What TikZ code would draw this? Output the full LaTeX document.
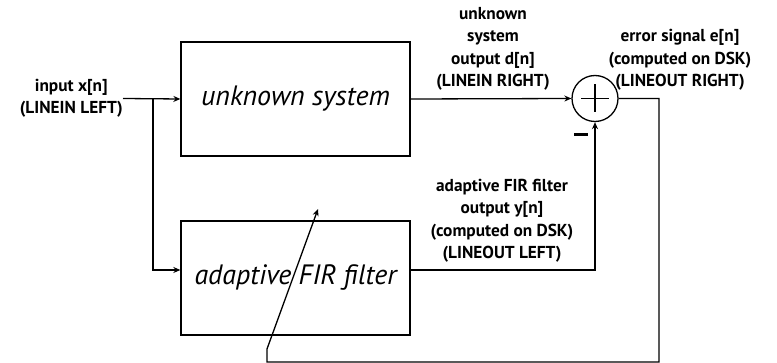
\documentclass[tikz,border=0pt]{standalone}
\usepackage{fontspec}
\setmainfont{PT Sans}
\usetikzlibrary{arrows.meta,positioning,calc}
\tikzset{
  sig/.style={-{Stealth[length=7pt,width=6pt]},line width=1.3pt},
  wire/.style={line width=1.3pt},
  block/.style={draw,line width=1.3pt,minimum width=229pt,minimum height=114pt,
                font=\fontsize{28}{32}\selectfont\itshape},
  summer/.style={draw,circle,line width=1.3pt,minimum size=46pt,inner sep=0pt},
  lbl/.style={font=\fontsize{17.3}{22.5}\selectfont\bfseries,align=center,inner sep=0pt},
}
\begin{document}
\begin{tikzpicture}[x=1pt,y=-1pt]
  \useasboundingbox (0,0) rectangle (777,363);
  % blocks
  \node[block] (unk) at (295.5,99) {unknown system};
  \node[block] (adf) at (295.5,278) {adaptive FIR filter};
  \node[summer] (sum) at (595,98.5) {};
  \draw[wire] ($(sum.center)+(-14,0)$) -- ($(sum.center)+(14,0)$);
  \draw[wire] ($(sum.center)+(0,-14)$) -- ($(sum.center)+(0,14)$);
  \node[inner sep=0pt] (minus) at (581,134.5) {\rule{14pt}{3.2pt}};

  % labels
  \node[lbl,anchor=east] (inlbl) at (123,98.5) {input x[n]\\(LINEIN LEFT)};
  \node[lbl] (dlbl) at (493,49) {unknown\\system\\output d[n]\\(LINEIN RIGHT)};
  \node[lbl] (elbl) at (680,60) {error signal e[n]\\(computed on DSK)\\(LINEOUT RIGHT)};
  \node[lbl] (ylbl) at (502,221) {adaptive FIR filter\\output y[n]\\(computed on DSK)\\(LINEOUT LEFT)};

  % signal paths
  \coordinate (split) at (153,98.5);
  \coordinate (eB) at (659,362);
  \coordinate (fbL) at (267,362);
  \coordinate (fbK) at (267,349);
  \coordinate (tip) at (318,209);
  \draw[sig] (inlbl.east) -- (unk.west);
  \draw[sig] (split) |- ([yshift=8pt]adf.west);
  \draw[sig] (unk.east) -- (sum.west);
  \draw[sig] ([yshift=8pt]adf.east) -| (sum.south);
  \draw[sig] (sum.east) -| (eB) -- (fbL) -- (fbK) -- (tip);
\end{tikzpicture}
\end{document}
